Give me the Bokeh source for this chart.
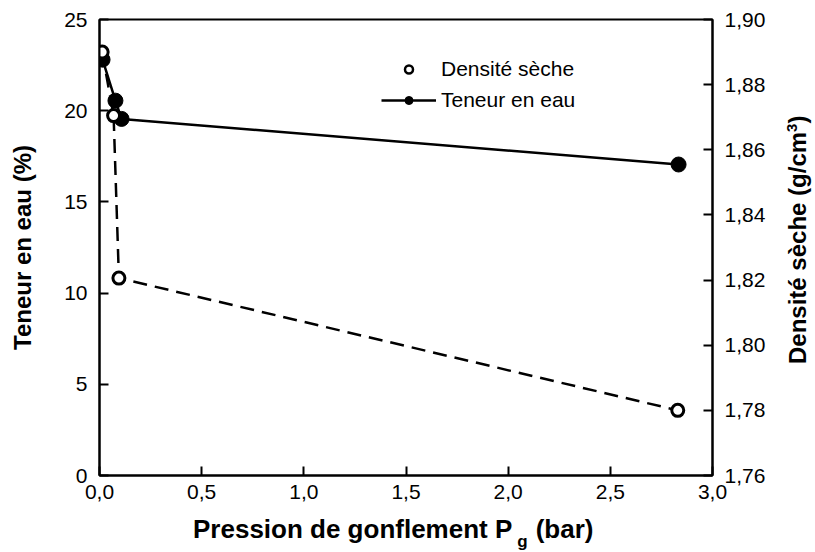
import math
from bokeh.plotting import figure
from bokeh.models import (Range1d, LinearAxis, FixedTicker, Legend, LegendItem,
                          Div)
from bokeh.layouts import row, column
from bokeh.embed import file_html
from bokeh.resources import INLINE

# ---- data ----
pression_dens = [0.013, 0.069, 0.095, 2.830]
densite = [1.890, 1.8705, 1.8206, 1.7800]

pression_ten = [0.015, 0.078, 0.108, 2.834]
teneur = [22.8, 20.55, 19.55, 17.05]

x_ticks = [0.0, 0.5, 1.0, 1.5, 2.0, 2.5, 3.0]
x_tick_labels = ["0,0", "0,5", "1,0", "1,5", "2,0", "2,5", "3,0"]
y_ticks = [0, 5, 10, 15, 20, 25]
y2_ticks = [1.76, 1.78, 1.80, 1.82, 1.84, 1.86, 1.88, 1.90]
y2_tick_labels = ["1,76", "1,78", "1,80", "1,82", "1,84", "1,86", "1,88", "1,90"]

x_title = "Pression de gonflement P"
x_title_sub = "g"
x_title_unit = "(bar)"
y_title = "Teneur en eau (%)"
y2_title = "Densité sèche (g/cm"
y2_title_sup = "3"

FONT = "Liberation Sans"
NAN = float("nan")

p = figure(width=777, height=514, x_range=Range1d(0, 3), y_range=Range1d(0, 25),
           output_backend="svg", toolbar_location=None,
           min_border_left=99, min_border_right=65, min_border_top=19,
           min_border_bottom=39, margin=0)
p.extra_y_ranges = {"dens": Range1d(1.76, 1.90)}
p.grid.visible = False
p.outline_line_color = "black"
p.outline_line_width = 2
p.background_fill_color = "white"
p.border_fill_color = "white"


def style(ax):
    ax.axis_line_width = 2
    ax.axis_line_color = "black"
    ax.major_tick_in = 9
    ax.major_tick_out = 0
    ax.major_tick_line_width = 2
    ax.major_tick_line_color = "black"
    ax.minor_tick_line_color = None
    ax.major_label_text_font = FONT
    ax.major_label_text_font_size = "21px"
    ax.major_label_text_color = "black"


xax = p.xaxis[0]
style(xax)
xax.ticker = FixedTicker(ticks=x_ticks)
xax.major_label_overrides = dict(zip(x_ticks, x_tick_labels))
xax.major_label_standoff = 9

yax = p.yaxis[0]
style(yax)
yax.ticker = FixedTicker(ticks=y_ticks)
yax.major_label_standoff = 12
yax.axis_label = y_title
yax.axis_label_text_font = FONT
yax.axis_label_text_font_size = "24px"
yax.axis_label_text_font_style = "bold"
yax.axis_label_text_color = "black"
yax.axis_label_standoff = 25

rax = LinearAxis(y_range_name="dens", ticker=FixedTicker(ticks=y2_ticks))
style(rax)
rax.major_label_overrides = dict(zip(y2_ticks, y2_tick_labels))
rax.major_label_standoff = 12
p.add_layout(rax, "right")

# ---- series ----
p.line(pression_ten, teneur, line_color="black", line_width=2.5)
p.scatter(pression_ten, teneur, size=15, fill_color="black", line_color="black")

p.line(pression_dens, densite, y_range_name="dens", line_color="black",
       line_width=2.5, line_dash="14 8")
p.scatter(pression_dens, densite, y_range_name="dens", size=12,
          fill_color="white", line_color="black", line_width=3)

# ---- legend (proxy renderers, nothing drawn in the frame) ----
leg_open = p.scatter(x=[NAN], y=[NAN], size=9, fill_color="white",
                     line_color="black", line_width=2.5)
leg_line = p.line(x=[NAN], y=[NAN], line_color="black", line_width=2.5)
leg_dot = p.scatter(x=[NAN], y=[NAN], size=10, fill_color="black",
                    line_color="black")
legend = Legend(items=[LegendItem(label="Densité sèche", renderers=[leg_open]),
                       LegendItem(label="Teneur en eau", renderers=[leg_line, leg_dot])],
                location=(282, 363), glyph_width=55, glyph_height=20,
                label_height=20, spacing=7, padding=0, margin=0,
                border_line_color=None, background_fill_alpha=0,
                label_text_font=FONT, label_text_font_size="21px",
                label_text_color="black", label_standoff=5)
p.add_layout(legend)

# ---- x title (with subscript) and right title (with superscript) ----
xdiv = Div(width=777, height=36, margin=0, text=(
    '<div style="padding-left:193px;white-space:nowrap;color:black;'
    f"font-family:'{FONT}';font-weight:bold;font-size:26px;line-height:30px;\">"
    f'{x_title}<span style="font-size:17px;position:relative;top:9px;'
    f'margin-left:5px">{x_title_sub}</span>'
    f'<span style="margin-left:8px">{x_title_unit}</span></div>'))

rdiv = Div(width=36, height=550, margin=0, text=(
    '<div style="position:relative;width:36px;height:550px;">'
    '<div style="position:absolute;left:7.4px;top:364px;transform-origin:0 0;'
    'transform:rotate(-90deg);white-space:nowrap;color:black;'
    f"font-family:'{FONT}';font-weight:bold;font-size:24px;line-height:28px;\">"
    f'{y2_title}<sup style="font-size:15px;line-height:0">{y2_title_sup}</sup>)'
    '</div></div>'))

layout = row(column(p, xdiv, spacing=0), rdiv, spacing=0)

open("out.html", "w").write(file_html(layout, INLINE))
